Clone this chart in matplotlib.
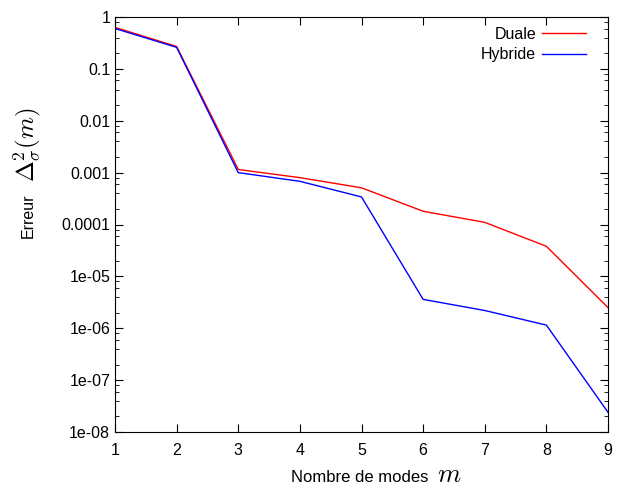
import matplotlib
matplotlib.use("Agg")
import matplotlib.pyplot as plt
from matplotlib.ticker import FixedLocator, FixedFormatter, LogLocator, NullFormatter

plt.rcParams['font.family'] = ['Liberation Sans', 'DejaVu Sans']
plt.rcParams['mathtext.fontset'] = 'cm'

modes = [1, 2, 3, 4, 5, 6, 7, 8, 9]
duale = [0.63, 0.27, 0.00115, 0.0008, 0.00051, 0.00018, 0.00011, 3.8e-5, 2.5e-6]
hybride = [0.6, 0.26, 0.001, 0.00068, 0.00034, 3.6e-6, 2.2e-6, 1.15e-6, 2.4e-8]

ytick_vals = [1, 0.1, 0.01, 0.001, 0.0001, 1e-5, 1e-6, 1e-7, 1e-8]
ytick_labels = ["1", "0.1", "0.01", "0.001", "0.0001", "1e-05", "1e-06", "1e-07", "1e-08"]

W, H = 620, 492
fig = plt.figure(figsize=(W / 100, H / 100), dpi=100)
ax = fig.add_axes([115 / W, 60 / H, 493 / W, 415 / H])

ax.plot(modes, duale, color="red", lw=1, label="Duale")
ax.plot(modes, hybride, color="blue", lw=1, label="Hybride")

ax.set_yscale("log")
ax.set_xlim(1, 9)
ax.set_ylim(1e-8, 1)
ax.set_xticks(modes)
ax.yaxis.set_major_locator(FixedLocator(ytick_vals))
ax.yaxis.set_major_formatter(FixedFormatter(ytick_labels))
ax.yaxis.set_minor_locator(LogLocator(base=10, subs=[2, 4, 6, 8], numticks=20))
ax.yaxis.set_minor_formatter(NullFormatter())

ax.tick_params(which="both", direction="in", top=True, right=True, labelsize=11.5)
ax.tick_params(which="major", length=6)
ax.tick_params(which="minor", length=3)
ax.tick_params(axis="x", pad=8)

# axis labels: plain text and a larger math part, placed in pixel coords
fig.text(360 / W, 1 - 477 / H, "Nombre de modes", fontsize=12, ha="center", va="center")
fig.text(449 / W, 1 - 475 / H, "$m$", fontsize=19, ha="center", va="center")
fig.text(28 / W, 1 - 216 / H, "Erreur", fontsize=11.5, rotation=90, ha="center", va="center")
fig.text(27 / W, 1 - 145 / H, "$\\Delta_\\sigma^2(m)$", fontsize=18, rotation=90,
         ha="center", va="center")

ax.legend(loc="upper right", bbox_to_anchor=(1 - 12 / 493, 1), frameon=False,
          markerfirst=False, fontsize=11.5, handlelength=2.8, handletextpad=0.35,
          borderaxespad=0.2, labelspacing=0.35)

fig.savefig("out.png", dpi=100)
